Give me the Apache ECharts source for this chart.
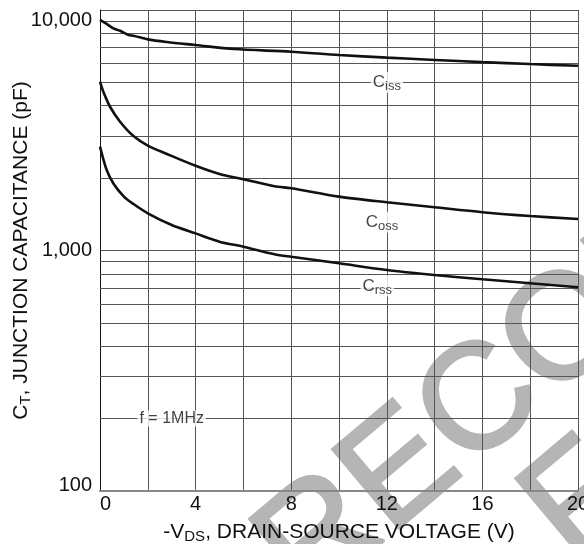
<!DOCTYPE html>
<html><head><meta charset="utf-8">
<script src="https://cdn.jsdelivr.net/npm/echarts@6/dist/echarts.min.js"></script>
<style>html,body{margin:0;padding:0;background:#fff}#c{width:584px;height:544px}</style>
</head><body><div id="c"></div>
<script>
// Data
const vIss = [0, 0.28, 0.56, 0.84, 1.19, 1.4, 2, 2.8, 4, 5.6, 8, 10, 12, 14, 16, 18, 20];
const cIss = [9100, 8750, 8390, 8200, 7870, 7820, 7550, 7360, 7150, 6880, 6710, 6500, 6340, 6200, 6070, 5960, 5860];
const vOss = [0, 0.14, 0.42, 0.84, 1.4, 2, 2.8, 4, 5, 6, 7.3, 8, 10, 12, 14, 16, 18, 20];
const cOss = [5035, 4570, 3960, 3430, 2990, 2730, 2520, 2250, 2080, 1980, 1850, 1815, 1675, 1587, 1513, 1443, 1391, 1352];
const vRss = [0, 0.28, 0.56, 1, 1.4, 2, 3, 4, 5, 6, 7.3, 8, 10, 12, 14, 16, 18, 20];
const cRss = [2705, 2160, 1900, 1675, 1560, 1428, 1277, 1178, 1088, 1037, 965, 942, 885, 830, 791, 759, 731, 703];
const xTicks = [0, 4, 8, 12, 16, 20];
const yMinorLines = [200, 300, 400, 500, 600, 700, 800, 900, 2000, 3000, 4000, 5000, 6000, 7000, 8000, 9000];
const curveLabels = [
  {name: 'iss', x: 12, y: 5000},
  {name: 'oss', x: 11.8, y: 1312},
  {name: 'rss', x: 11.6, y: 712}
];
const freqNote = {text: 'f = 1MHz', x: 3, y: 200};
const watermark1 = 'RECOMMENDED';
const watermark2 = 'FOR NEW DESIGN';

const FONT = 'Liberation Sans, Arial, sans-serif';
const zip = (xs, ys) => xs.map((x, i) => [x, ys[i]]);
const chart = echarts.init(document.getElementById('c'), null, {renderer: 'canvas'});
const curve = (d) => ({type: 'line', data: d, showSymbol: false, smooth: 0.3, silent: true,
  lineStyle: {color: '#111', width: 2.6}, z: 5});
const lbl = (txt, x, y) => ({
  type: 'scatter', data: [[x, y]], symbolSize: 0, silent: true, z: 6,
  label: {show: true, position: 'inside', formatter: txt,
    backgroundColor: '#fff', padding: [0, 2, 0, 2], color: '#111', fontFamily: FONT, fontSize: 17,
    rich: {sub: {fontSize: 13, verticalAlign: 'bottom', padding: [8, 0, 0, 0], fontFamily: FONT, color: '#111'}}}
});
const subRich = {sub: {fontSize: 15, verticalAlign: 'bottom', padding: [9, 0, 0, 0], fontFamily: FONT, color: '#111'}};
const tickFmt = v => {
  const s = v.toLocaleString('en-US');
  if (v >= 10000) return '{hi|' + s + '}';
  if (v <= 100) return '{lo|' + s + '}';
  return s;
};
const wmStyle = (t, va) => ({text: t, fontSize: 150, fontFamily: FONT, fill: '#b5b5b5',
  stroke: '#b5b5b5', lineWidth: 3, textAlign: 'left', textVerticalAlign: va});
const option = {
  animation: false,
  backgroundColor: '#fff',
  grid: {left: 100, right: 6, top: 10, bottom: 53, containLabel: false, outerBoundsMode: 'none'},
  graphic: [{
    type: 'text', x: 280, y: 574, rotation: 40 * Math.PI / 180, z: -10, silent: true,
    style: wmStyle(watermark1, 'middle')
  }, {
    type: 'text', x: 498, y: 476, rotation: 40 * Math.PI / 180, z: -10, silent: true,
    style: wmStyle(watermark2, 'top')
  }],
  xAxis: {
    type: 'value', min: 0, max: 20, interval: 2,
    axisLine: {lineStyle: {color: '#888', width: 2}},
    axisTick: {show: false},
    axisLabel: {color: '#111', fontSize: 20, fontFamily: FONT, margin: 3, hideOverlap: false,
      alignMinLabel: 'left',
      formatter: v => xTicks.includes(v) ? String(v) : ''},
    splitLine: {show: true, lineStyle: {color: '#555', width: 1}},
    name: '-V{sub|DS}, DRAIN-SOURCE VOLTAGE (V)', nameLocation: 'middle', nameGap: 29,
    nameMoveOverlap: false,
    nameTextStyle: {color: '#111', fontSize: 21, fontFamily: FONT, rich: subRich}
  },
  yAxis: {
    type: 'log', logBase: 10, min: 100, max: 10000,
    axisLine: {show: true, lineStyle: {color: '#111', width: 1}},
    axisTick: {show: false},
    axisLabel: {color: '#111', fontSize: 20, fontFamily: FONT, margin: 8,
      formatter: tickFmt,
      rich: {
        hi: {fontSize: 20, fontFamily: FONT, color: '#111', padding: [20, 0, 0, 0]},
        lo: {fontSize: 20, fontFamily: FONT, color: '#111', padding: [0, 0, 12, 0]}
      }},
    splitLine: {show: true, lineStyle: {color: '#555', width: 1}},
    name: 'C{sub|T}, JUNCTION CAPACITANCE (pF)', nameLocation: 'middle', nameGap: 67,
    nameMoveOverlap: false,
    nameTextStyle: {color: '#111', fontSize: 21, fontFamily: FONT, rich: subRich}
  },
  series: [
    {type: 'line', data: [], silent: true,
      markLine: {silent: true, symbol: 'none', label: {show: false},
        lineStyle: {color: '#555', width: 1, type: 'solid'},
        data: yMinorLines.map(v => ({yAxis: v}))}, z: 1},
    curve(zip(vIss, cIss)),
    curve(zip(vOss, cOss)),
    curve(zip(vRss, cRss)),
    ...curveLabels.map(c => lbl('C{sub|' + c.name + '}', c.x, c.y)),
    {type: 'scatter', data: [[freqNote.x, freqNote.y]], symbolSize: 0, silent: true, z: 6,
      label: {show: true, position: 'inside', formatter: freqNote.text, backgroundColor: '#fff',
        padding: [0, 2, 0, 2], color: '#111', fontFamily: FONT, fontSize: 16}}
  ]
};
chart.setOption(option);
</script></body></html>
